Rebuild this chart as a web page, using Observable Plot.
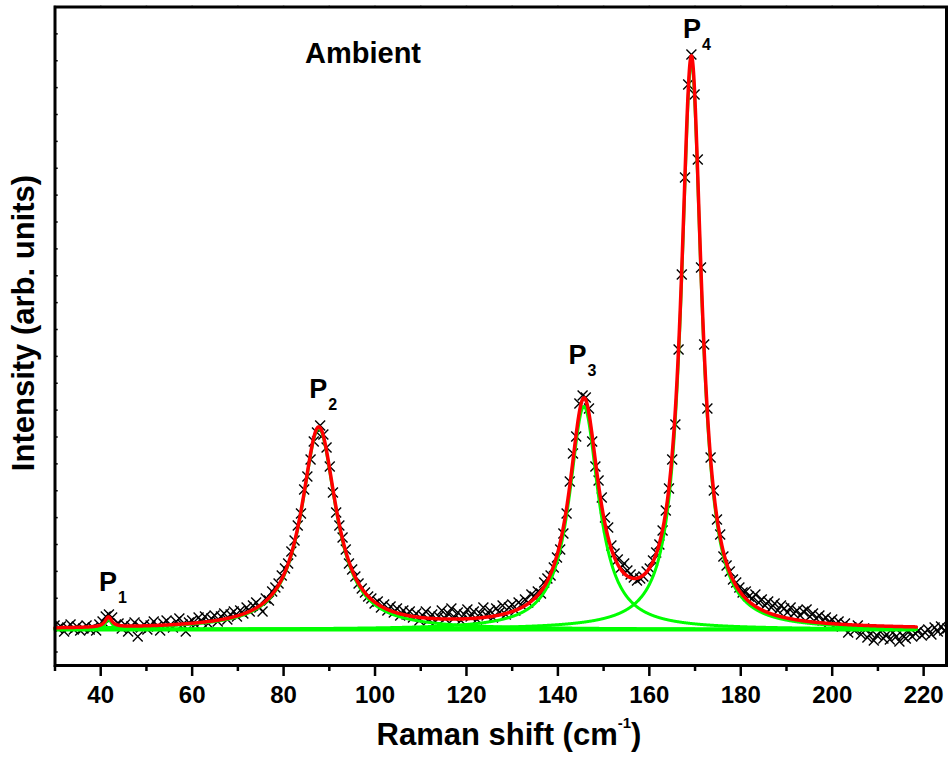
<!DOCTYPE html>
<html><head><meta charset="utf-8">
<script src="https://cdn.jsdelivr.net/npm/d3@7"></script>
<script src="https://cdn.jsdelivr.net/npm/@observablehq/plot@0.6"></script>
<style>html,body{margin:0;padding:0;background:#fff;overflow:hidden}</style>
</head><body><div id="chart"></div>
<script>
// Measured spectrum (Raman shift in cm^-1, intensity in arb. units)
const ramanShift = [
29.9,30.6,31.3,32.0,32.7,33.4,34.1,34.8,35.5,36.2,
36.9,37.6,38.3,39.0,39.7,40.4,41.1,41.8,42.5,43.2,
43.9,44.6,45.3,46.0,46.7,47.4,48.1,48.8,49.5,50.2,
50.9,51.6,52.3,53.0,53.7,54.4,55.1,55.8,56.5,57.2,
57.9,58.6,59.3,60.0,60.7,61.4,62.1,62.8,63.5,64.2,
64.9,65.6,66.3,67.0,67.7,68.4,69.1,69.8,70.5,71.2,
71.9,72.6,73.3,74.0,74.7,75.4,76.1,76.8,77.5,78.2,
78.9,79.6,80.3,81.0,81.7,82.4,83.1,83.8,84.5,85.2,
85.9,86.6,87.3,88.0,88.7,89.4,90.1,90.8,91.5,92.2,
92.9,93.6,94.3,95.0,95.7,96.4,97.1,97.8,98.5,99.2,
99.9,100.6,101.3,102.0,102.7,103.4,104.1,104.8,105.5,106.2,
106.9,107.6,108.3,109.0,109.7,110.4,111.1,111.8,112.5,113.2,
113.9,114.6,115.3,116.0,116.7,117.4,118.1,118.8,119.5,120.2,
120.9,121.6,122.3,123.0,123.7,124.4,125.1,125.8,126.5,127.2,
127.9,128.6,129.3,130.0,130.7,131.4,132.1,132.8,133.5,134.2,
134.9,135.6,136.3,137.0,137.7,138.4,139.1,139.8,140.5,141.2,
141.9,142.6,143.3,144.0,144.7,145.4,146.1,146.8,147.5,148.2,
148.9,149.6,150.3,151.0,151.7,152.4,153.1,153.8,154.5,155.2,
155.9,156.6,157.3,158.0,158.7,159.4,160.1,160.8,161.5,162.2,
162.9,163.6,164.3,165.0,165.7,166.4,167.1,167.8,168.5,169.2,
169.9,170.6,171.3,172.0,172.7,173.4,174.1,174.8,175.5,176.2,
176.9,177.6,178.3,179.0,179.7,180.4,181.1,181.8,182.5,183.2,
183.9,184.6,185.3,186.0,186.7,187.4,188.1,188.8,189.5,190.2,
190.9,191.6,192.3,193.0,193.7,194.4,195.1,195.8,196.5,197.2,
197.9,198.6,199.3,200.0,200.7,201.4,202.1,202.8,203.5,204.2,
204.9,205.6,206.3,207.0,207.7,208.4,209.1,209.8,210.5,211.2,
211.9,212.6,213.3,214.0,214.7,215.4,216.1,216.8,217.5,218.2,
218.9,219.6,220.3,221.0,221.7,222.4,223.1,223.8,224.5,225.2
];
const intensity = [
4,1,3,-2,2,5,0,3,-1,1,
4,0,2,-1,5,8,13,15,12,4,
6,1,5,-2,3,7,-7,2,5,0,
4,8,3,-1,6,9,4,2,8,11,
5,-2,7,9,5,12,8,13,6,11,
14,8,13,16,10,15,18,13,19,16,
22,18,24,27,22,18,31,29,38,42,
46,54,61,66,78,89,104,116,140,153,
170,188,197,204,195,182,163,137,117,104,
92,80,66,60,53,46,41,37,33,31,
26,28,22,25,19,23,17,21,14,19,
15,18,12,16,9,14,18,10,15,8,
13,19,11,16,21,12,17,9,15,20,
13,18,10,16,22,14,19,12,21,17,
24,15,22,25,19,27,24,30,27,35,
33,38,36,47,51,54,62,72,80,96,
116,148,176,193,226,234,232,221,188,163,
149,132,112,102,84,76,70,62,66,59,
55,52,49,51,53,58,61,69,77,85,
99,119,141,170,205,280,355,452,545,575,
535,470,362,285,221,172,139,110,95,73,
64,58,50,47,42,37,38,33,31,35,
27,30,24,28,22,26,19,24,21,17,
22,16,19,14,18,20,13,16,11,14,
9,12,7,10,5,8,3,6,-3,2,
-1,4,-5,1,-8,-4,-11,-6,-2,-9,
-5,-10,-3,-7,-12,-6,-9,-2,-7,-4,
-1,-6,-3,0,-5,2,-2,3,-1,1
];

// Lorentzian fit results
const peakNames = ["P", "P", "P", "P"];
const peakSubs = ["1", "2", "3", "4"];
const peakCenter = [41.7, 87.7, 145.7, 169.2];
const peakHeight = [10, 201, 223, 567];
const peakHWHM = [0.9, 4.6, 3.9, 2.7];
const baselineLevel = 0;
const fitStart = 30, fitEnd = 218.4;

// Axis ticks and texts
const xMajorTicks = [40, 60, 80, 100, 120, 140, 160, 180, 200, 220];
const xMinorTicks = [30, 50, 70, 90, 110, 130, 150, 170, 190, 210];
const xTopTicks = [30, 40, 50, 60, 70, 80, 90, 100, 110, 120, 130, 140, 150, 160, 170, 180, 190, 200, 210, 220];
const yTickTop = 622.5, yTickStep = 26.875, yTickCount = 25;
const xTitle = "Raman shift (cm", xTitleSup = "-1", xTitleEnd = ")";
const yTitle = "Intensity (arb. units)";
const sampleLabel = "Ambient";

const points = ramanShift.map((x, i) => ({x, y: intensity[i]}));
const lor = (x, k) => peakHeight[k] / (1 + ((x - peakCenter[k]) / peakHWHM[k]) ** 2);
const fitTotal = x => baselineLevel + d3.sum(peakCenter, (_, k) => lor(x, k));
const fitX = d3.range(fitStart, fitEnd, 0.05).concat([fitEnd]);
const total = fitX.map(x => ({x, y: fitTotal(x)}));
const components = peakCenter.flatMap((c, k) => fitX.map(x => ({x, y: baselineLevel + lor(x, k), k})));
const yTicks = d3.range(yTickCount).map(k => yTickTop - k * yTickStep);

const chart = Plot.plot({
  width: 949, height: 757,
  marginLeft: 54.5, marginRight: 3, marginTop: 6.5, marginBottom: 92,
  x: {domain: [30, 225], axis: null},
  y: {domain: [-36, 622.5], axis: null},
  style: {fontFamily: "'Liberation Sans', Arial, sans-serif", fontWeight: "bold", color: "black", background: "white", overflow: "visible"},
  marks: [
    Plot.dot(points, {x: "x", y: "y", symbol: "times", r: 4.6, stroke: "black", strokeWidth: 1.4, clip: true}),
    Plot.ruleY([baselineLevel], {x1: fitStart, x2: fitEnd, stroke: "#00ff00", strokeWidth: 4}),
    Plot.line(components, {x: "x", y: "y", z: "k", stroke: "#00ff00", strokeWidth: 3}),
    Plot.line(total, {x: "x", y: "y", stroke: "#ff0000", strokeWidth: 3.5}),
    Plot.ruleY(yTicks, {y: d => d, x1: 30, x2: 30.7, stroke: "black", strokeWidth: 1.5}),
    Plot.axisX({ticks: xMajorTicks, tickSize: 11, strokeWidth: 2.5, tickPadding: 9, fontSize: 24, fontWeight: "bold", label: null, tickFormat: d => String(d)}),
    Plot.axisX({ticks: xMinorTicks, tickSize: 6, strokeWidth: 2.5, fill: "none", label: null}),
    Plot.axisX({anchor: "top", ticks: xTopTicks, tickSize: 2, stroke: "#777", strokeWidth: 1.5, fill: "none", label: null}),
    Plot.frame({stroke: "black", strokeWidth: 3})
  ]
});
document.getElementById("chart").appendChild(chart);

// Annotations (text with sub/superscripts)
const svg = d3.select(chart);
const X = chart.scale("x"), Y = chart.scale("y");
const labelDx = [0, 0, -6, 1];
const labelLift = [25, 28, 33, 17];
peakCenter.forEach((c, k) => {
  const px = X.apply(c) + labelDx[k];
  const py = Y.apply(fitTotal(c)) - labelLift[k];
  svg.append("text").attr("x", px).attr("y", py).attr("text-anchor", "middle")
    .attr("font-size", 27).attr("font-weight", "bold").attr("fill", "black").text(peakNames[k]);
  svg.append("text").attr("x", px + 10).attr("y", py + 12).attr("text-anchor", "start")
    .attr("font-size", 16).attr("font-weight", "bold").attr("fill", "black").text(peakSubs[k]);
});
svg.append("text").attr("x", 305).attr("y", 63).attr("text-anchor", "start").attr("font-size", 29).attr("font-weight", "bold")
  .attr("fill", "black").text(sampleLabel);
const xt = svg.append("text").attr("x", 509).attr("y", 745).attr("text-anchor", "middle")
  .attr("font-size", 31).attr("font-weight", "bold").attr("fill", "black");
xt.append("tspan").text(xTitle);
xt.append("tspan").attr("dy", -17).attr("font-size", 15).text(xTitleSup);
xt.append("tspan").attr("dy", 17).text(xTitleEnd);
svg.append("text").attr("transform", "translate(34,323) rotate(-90)").attr("text-anchor", "middle")
  .attr("font-size", 31).attr("font-weight", "bold").attr("fill", "black").text(yTitle);
</script>
</body></html>
